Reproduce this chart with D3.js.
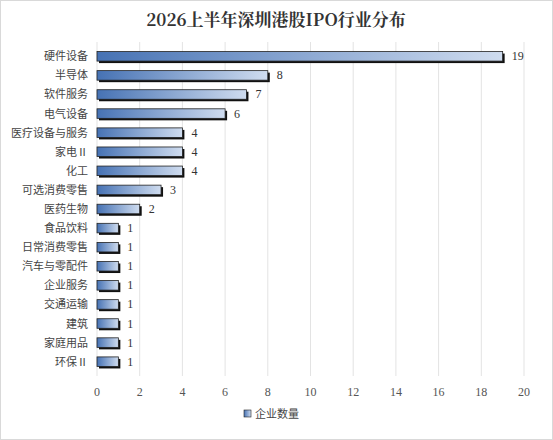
<!DOCTYPE html>
<html><head><meta charset="utf-8">
<script src="https://cdn.jsdelivr.net/npm/d3@7.9.0/dist/d3.min.js"></script>
<style>body{margin:0;background:#fff}</style>
</head><body><svg id="c" width="553" height="440"></svg>
<script>
// ====== DATA ======
const industries = ['硬件设备','半导体','软件服务','电气设备','医疗设备与服务','家电Ⅱ','化工','可选消费零售','医药生物','食品饮料','日常消费零售','汽车与零配件','企业服务','交通运输','建筑','家庭用品','环保Ⅱ'];
const counts = [19, 8, 7, 6, 4, 4, 4, 3, 2, 1, 1, 1, 1, 1, 1, 1, 1];
const xTicks = [0, 2, 4, 6, 8, 10, 12, 14, 16, 18, 20];

const svg = d3.select('#c');
const font = '"Noto Sans CJK SC", sans-serif';

svg.append('rect').attr('x', 0.5).attr('y', 0.5).attr('width', 552).attr('height', 439)
  .attr('fill', '#fff').attr('stroke', '#d9d9d9');

const grad = svg.append('defs').append('linearGradient').attr('id', 'g');
grad.append('stop').attr('offset', '0%').attr('stop-color', '#4672b4');
grad.append('stop').attr('offset', '100%').attr('stop-color', '#cfdcef');

const x = d3.scaleLinear().domain([0, 20]).range([97, 524]);
const y = d3.scaleBand().domain(industries).range([42, 376]).padding(0.5);

svg.append('text').attr('x', 276).attr('y', 26).attr('text-anchor', 'middle')
  .attr('font-family', '"Noto Serif CJK SC","Noto Sans CJK SC",serif').attr('font-weight', 'bold')
  .attr('font-size', 17).attr('fill', '#333').text('2026上半年深圳港股IPO行业分布');

// gridlines
svg.append('g').selectAll('line').data(xTicks).join('line')
  .attr('x1', d => x(d)).attr('x2', d => x(d)).attr('y1', 42).attr('y2', 376)
  .attr('stroke', '#e3e3e3');

// shadows
svg.append('g').selectAll('rect').data(counts).join('rect')
  .attr('x', x(0) + 2).attr('y', (d, i) => y(industries[i]) + 2)
  .attr('width', d => x(d) - x(0)).attr('height', y.bandwidth()).attr('fill', '#111');

svg.append('g').selectAll('rect').data(counts).join('rect')
  .attr('x', x(0)).attr('y', (d, i) => y(industries[i]))
  .attr('width', d => x(d) - x(0)).attr('height', y.bandwidth())
  .attr('fill', 'url(#g)').attr('stroke', '#222').attr('stroke-width', 0.8);

svg.append('g').selectAll('text').data(counts).join('text')
  .attr('x', d => x(d) + 9).attr('y', (d, i) => y(industries[i]) + y.bandwidth() / 2 + 4)
  .attr('font-family', '"Liberation Serif",serif').attr('font-size', 12).attr('fill', '#333')
  .text(d => d);

svg.append('g').selectAll('text').data(industries).join('text')
  .attr('x', 88).attr('y', d => y(d) + y.bandwidth() / 2 + 4).attr('text-anchor', 'end')
  .attr('font-family', font).attr('font-size', 11).attr('fill', '#444').text(d => d);

svg.append('g').selectAll('text').data(xTicks).join('text')
  .attr('x', d => x(d)).attr('y', 396).attr('text-anchor', 'middle')
  .attr('font-family', '"Liberation Serif",serif').attr('font-size', 12).attr('fill', '#555').text(d => d);

// legend
svg.append('rect').attr('x', 244).attr('y', 410).attr('width', 7).attr('height', 7)
  .attr('fill', 'url(#g)').attr('stroke', '#222').attr('stroke-width', 0.6);
svg.append('text').attr('x', 255).attr('y', 418).attr('font-family', font).attr('font-size', 11)
  .attr('fill', '#444').text('企业数量');
</script></body></html>
